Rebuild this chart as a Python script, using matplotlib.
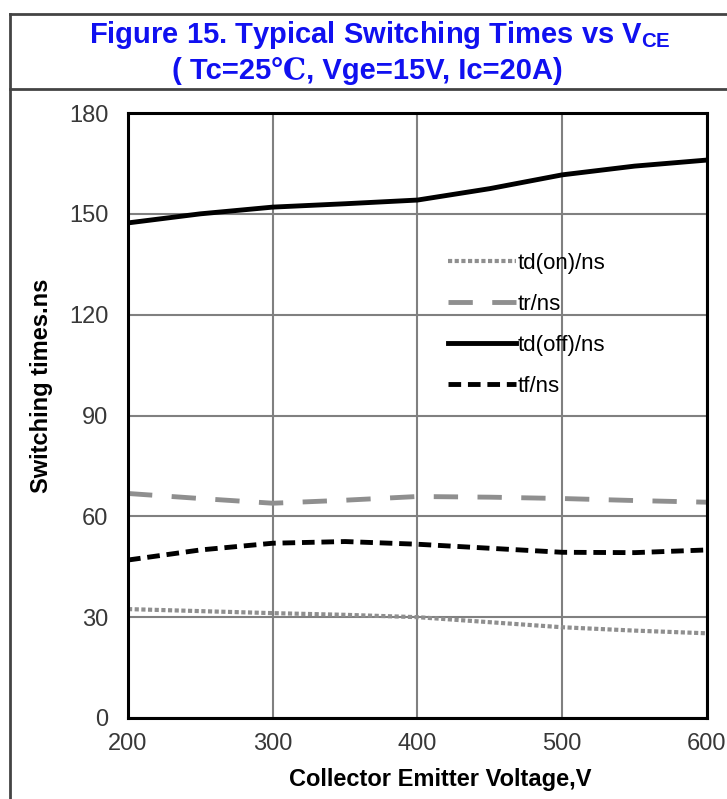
import matplotlib
matplotlib.use("Agg")
import matplotlib.pyplot as plt
from matplotlib.lines import Line2D

plt.rcParams["font.family"] = ["Liberation Sans", "DejaVu Serif"]
plt.rcParams["mathtext.fontset"] = "custom"
plt.rcParams["mathtext.bf"] = "Liberation Sans:bold"
plt.rcParams["mathtext.rm"] = "Liberation Sans"

# values
vce = [200, 250, 300, 350, 400, 450, 500, 550, 600]
td_on = [32.4, 31.8, 31.2, 30.7, 30.0, 28.5, 27.0, 26.0, 25.2]
tr = [66.8, 65.3, 63.9, 64.8, 65.9, 65.7, 65.3, 64.7, 64.2]
td_off = [147.3, 150.0, 152.0, 153.0, 154.1, 157.5, 161.6, 164.2, 166.0]
tf = [47.0, 50.0, 52.0, 52.5, 51.7, 50.5, 49.3, 49.2, 50.0]

yticks = [0, 30, 60, 90, 120, 150, 180]
xticks = [200, 300, 400, 500, 600]

fig = plt.figure(figsize=(7.27, 7.99), dpi=100)

# outer frame and title box
frame = dict(color="#444444", lw=2.0, transform=fig.transFigure, clip_on=False)
fig.add_artist(Line2D([10 / 727, 10 / 727], [0, 1 - 14 / 799], **frame))
fig.add_artist(Line2D([10 / 727, 1], [1 - 14 / 799, 1 - 14 / 799], **frame))
fig.add_artist(Line2D([10 / 727, 1], [1 - 89 / 799, 1 - 89 / 799], **frame))

blue = "#1010f0"
fig.text(380 / 727, 1 - 35 / 799, r"Figure 15. Typical Switching Times vs V$_{\mathbf{CE}}$",
         ha="center", va="center", fontsize=21, fontweight="bold", color=blue)
fig.text(367 / 727, 1 - 71 / 799, "( Tc=25\u2103, Vge=15V, Ic=20A)",
         ha="center", va="center", fontsize=21, fontweight="bold", color=blue)

ax = fig.add_axes([128 / 727, 1 - 718 / 799, (707 - 128) / 727, (718 - 113) / 799])
ax.plot(vce, td_on, color="#8f8f8f", lw=3, ls=(0, (1, 0.6)), label="td(on)/ns")
ax.plot(vce, tr, color="#8f8f8f", lw=3.5, ls=(0, (5, 4)), label="tr/ns")
ax.plot(vce, td_off, color="black", lw=3.5, ls="-", label="td(off)/ns")
ax.plot(vce, tf, color="black", lw=3.5, ls=(0, (2.6, 1.4)), label="tf/ns")

ax.set_xlim(200, 600)
ax.set_ylim(0, 180)
ax.set_xticks(xticks)
ax.set_yticks(yticks)
ax.grid(True, color="#808080", lw=1.5)
ax.set_axisbelow(True)
for s in ax.spines.values():
    s.set_linewidth(2.2)
    s.set_color("black")
ax.tick_params(length=0, labelsize=17, colors="#383838")
ax.tick_params(axis="y", pad=14)
ax.tick_params(axis="x", pad=11)

ax.set_xlabel("Collector Emitter Voltage,V", fontsize=17, fontweight="bold")
ax.set_ylabel("Switching times.ns", fontsize=17, fontweight="bold")
ax.xaxis.set_label_coords(0.54, -0.082)
ax.yaxis.set_label_coords(-0.13, 0.549)

leg = ax.legend(loc="upper left", bbox_to_anchor=(0.537, 0.784), frameon=False,
                fontsize=16, handlelength=3.05, handletextpad=0.1, labelspacing=0.9,
                borderaxespad=0)

fig.savefig("out.png", dpi=100)
